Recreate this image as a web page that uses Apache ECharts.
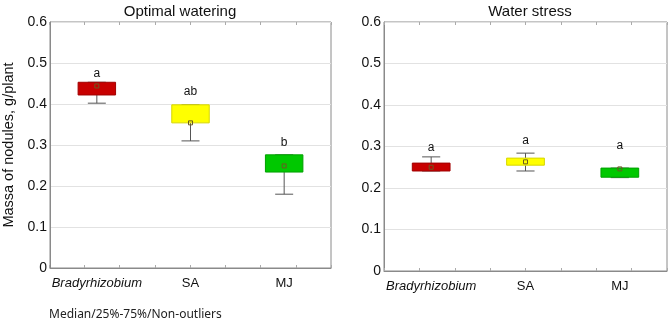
<!DOCTYPE html>
<html>
<head>
<meta charset="utf-8">
<script src="https://cdn.jsdelivr.net/npm/echarts@6/dist/echarts.min.js"></script>
<style>
  html, body { margin: 0; padding: 0; background: #fff; }
  #chart { width: 669px; height: 325px; }
</style>
</head>
<body>
<div id="chart"></div>
<script>
const categories = ["Bradyrhizobium", "SA", "MJ"]

// Optimal watering: whisker low, Q1, median, Q3, whisker high
const optMin = [0.402, 0.31, 0.18]
const optQ1 = [0.422, 0.354, 0.234]
const optMed = [0.444, 0.354, 0.249]
const optQ3 = [0.453, 0.398, 0.276]
const optMax = [0.453, 0.398, 0.276]
const optLetters = ["a", "ab", "b"]
const optLetterAt = [0.459, 0.415, 0.29]

// Water stress
const stressMin = [0.241, 0.241, 0.225]
const stressQ1 = [0.241, 0.255, 0.226]
const stressMed = [0.25, 0.263, 0.246]
const stressQ3 = [0.26, 0.272, 0.248]
const stressMax = [0.275, 0.284, 0.248]
const stressLetters = ["a", "a", "a"]
const stressLetterAt = [0.282, 0.299, 0.287]

const yTicks = [0, 0.1, 0.2, 0.3, 0.4, 0.5, 0.6]

const fills = ["#c80000", "#ffff00", "#00c800"]
const edges = ["#a00000", "#d6d600", "#00a000"]

const chart = echarts.init(document.getElementById("chart"))

function buildData(mins, q1s, meds, q3s, maxs, letterAt) {
  return categories.map((c, i) => [i, mins[i], q1s[i], meds[i], q3s[i], maxs[i], letterAt[i]])
}

function makeRender(letters) {
  return function (params, api) {
    const i = api.value(0)
    const lo = api.coord([i, api.value(1)])
    const q1 = api.coord([i, api.value(2)])
    const med = api.coord([i, api.value(3)])
    const q3 = api.coord([i, api.value(4)])
    const hi = api.coord([i, api.value(5)])
    const lt = api.coord([i, api.value(6)])
    const bw = api.size([1, 0])[0] * 0.4
    const cap = bw * 0.24
    const cx = q1[0]
    const lineStyle = { stroke: "#555", lineWidth: 1 }
    const children = [
      { type: "line", shape: { x1: cx, y1: q1[1], x2: cx, y2: lo[1] }, style: lineStyle },
      { type: "line", shape: { x1: cx - cap, y1: lo[1], x2: cx + cap, y2: lo[1] }, style: lineStyle },
      { type: "line", shape: { x1: cx, y1: q3[1], x2: cx, y2: hi[1] }, style: lineStyle },
      { type: "line", shape: { x1: cx - cap, y1: hi[1], x2: cx + cap, y2: hi[1] }, style: lineStyle },
      {
        type: "rect",
        shape: { x: cx - bw / 2, y: q3[1], width: bw, height: q1[1] - q3[1] },
        style: { fill: fills[i], stroke: edges[i], lineWidth: 1 }
      },
      {
        type: "rect",
        shape: { x: cx - 2, y: med[1] - 2, width: 4, height: 4 },
        style: { fill: "none", stroke: "#6b5a20", lineWidth: 1 }
      },
      {
        type: "text",
        style: {
          text: letters[i], x: cx, y: lt[1],
          align: "center", verticalAlign: "bottom",
          fontSize: 12, fontFamily: "Liberation Sans", fill: "#111"
        }
      }
    ]
    return { type: "group", children }
  }
}

const grids = [
  { left: 49, right: 338, top: 22, bottom: 57 },
  { left: 384, right: 2, top: 22, bottom: 54 }
]

const catAxis = (gi) => ({
  type: "category", gridIndex: gi, data: categories,
  axisLine: { show: true, lineStyle: { color: "#8a8a8a" } },
  axisTick: { show: false },
  axisLabel: {
    interval: 0, margin: 9, fontSize: 13, color: "#111", fontFamily: "Liberation Sans",
    formatter: v => v === "Bradyrhizobium" ? "{i|" + v + "}" : v,
    rich: { i: { fontStyle: "italic", fontSize: 13, fontFamily: "Liberation Sans", color: "#111" } }
  }
})

const tickAxis = (gi, pos) => ({
  type: "value", gridIndex: gi, position: pos, min: 0, max: 8, interval: 1,
  axisLine: { show: false }, axisLabel: { show: false }, splitLine: { show: false },
  axisTick: { show: true, inside: true, length: 3, lineStyle: { color: "#aaa" } }
})

const valAxis = (gi, name) => ({
  type: "value", gridIndex: gi, min: 0, max: 0.6, interval: 0.1,
  name: name, nameLocation: "middle", nameRotate: 90, nameGap: 34,
  nameTextStyle: { fontSize: 14.5, color: "#111", fontFamily: "Liberation Sans" },
  axisLine: { show: true, lineStyle: { color: "#8a8a8a" } },
  axisTick: { show: false },
  axisLabel: {
    margin: 3, fontSize: 14, color: "#111", fontFamily: "Liberation Sans",
    customValues: yTicks,
    formatter: v => String(Math.round(v * 10) / 10)
  },
  splitLine: { show: true, lineStyle: { color: "#e2e2e2" } }
})

const hiddenY = (gi) => ({
  type: "value", gridIndex: gi, min: 0, max: 1, show: false
})

const option = {
  backgroundColor: "#fff",
  animation: false,
  title: [
    { text: "Optimal watering", left: 180, top: 4, padding: 0, textAlign: "center",
      textStyle: { fontSize: 15, fontWeight: "normal", color: "#111", fontFamily: "Liberation Sans" } },
    { text: "Water stress", left: 530, top: 4, padding: 0, textAlign: "center",
      textStyle: { fontSize: 15, fontWeight: "normal", color: "#111", fontFamily: "Liberation Sans" } },
    { text: "Median/25%-75%/Non-outliers", left: 49, top: 309, padding: 0,
      textStyle: { fontSize: 12, fontWeight: "normal", color: "#222", fontFamily: "Noto Sans" } }
  ],
  grid: [
    Object.assign({ show: true, borderColor: "#8a8a8a", borderWidth: 1, backgroundColor: "#fff" }, grids[0]),
    Object.assign({ show: true, borderColor: "#8a8a8a", borderWidth: 1, backgroundColor: "#fff" }, grids[1]),
    Object.assign({}, grids[0]),
    Object.assign({}, grids[1])
  ],
  xAxis: [
    catAxis(0), catAxis(1),
    tickAxis(2, "bottom"), tickAxis(2, "top"),
    tickAxis(3, "bottom"), tickAxis(3, "top")
  ],
  yAxis: [
    valAxis(0, "Massa of nodules, g/plant"), valAxis(1, ""),
    hiddenY(2), hiddenY(3)
  ],
  series: [
    {
      type: "custom", xAxisIndex: 0, yAxisIndex: 0,
      renderItem: makeRender(optLetters),
      encode: { x: 0, y: [1, 2, 3, 4, 5, 6] },
      data: buildData(optMin, optQ1, optMed, optQ3, optMax, optLetterAt)
    },
    {
      type: "custom", xAxisIndex: 1, yAxisIndex: 1,
      renderItem: makeRender(stressLetters),
      encode: { x: 0, y: [1, 2, 3, 4, 5, 6] },
      data: buildData(stressMin, stressQ1, stressMed, stressQ3, stressMax, stressLetterAt)
    }
  ]
}

chart.setOption(option)
</script>
</body>
</html>
